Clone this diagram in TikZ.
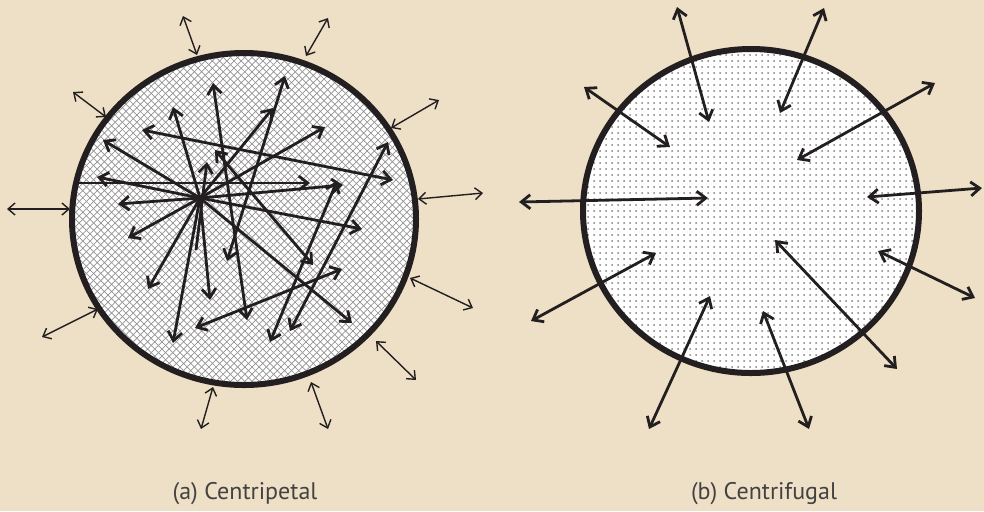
\documentclass[tikz,border=0pt]{standalone}
\usepackage{fontspec}
\setmainfont{PT Sans}
\usepackage{tikz}
\usetikzlibrary{arrows.meta, patterns}

\definecolor{paper}{HTML}{EDE0C6}
\definecolor{ink}{HTML}{231F20}

% coarser cross hatching for the centripetal pool
\pgfdeclarepatternformonly{widehatch}{\pgfqpoint{-1pt}{-1pt}}{\pgfqpoint{4.6pt}{4.6pt}}{\pgfqpoint{3.6pt}{3.6pt}}{
  \pgfsetlinewidth{0.35pt}
  \pgfpathmoveto{\pgfqpoint{0pt}{0pt}}
  \pgfpathlineto{\pgfqpoint{3.6pt}{3.6pt}}
  \pgfpathmoveto{\pgfqpoint{0pt}{3.6pt}}
  \pgfpathlineto{\pgfqpoint{3.6pt}{0pt}}
  \pgfusepath{stroke}
}

\begin{document}
\begin{tikzpicture}[
    x=0.5pt, y=-0.5pt,
    every node/.style={font=\large, text=ink!85},
    pool/.style={line width=3pt, draw=ink},
    thinarrow/.style={<->, >={Straight Barb[length=3.5pt, width=6pt]}, line width=0.7pt, draw=ink},
    boldarrow/.style={>={Straight Barb[length=4.5pt, width=7pt]}, line width=1.4pt, draw=ink}
]
% background and frame
\fill[paper] (0,0) rectangle (984,511);
\useasboundingbox (0,0) rectangle (984,511);

% (a) centripetal pool
\fill[white] (244,219) ellipse [x radius=86pt, y radius=83pt];
\fill[pattern=widehatch, pattern color=gray!85] (244,219) ellipse [x radius=86pt, y radius=83pt];
\coordinate (hub) at (200,198);

\draw[boldarrow, ->] (hub) -- (103,140);
\draw[boldarrow, ->] (hub) -- (97,177);
\draw[boldarrow, ->] (hub) -- (118,204);
\draw[boldarrow, ->] (hub) -- (128,238);
\draw[boldarrow, ->] (hub) -- (148,289);
\draw[boldarrow, ->] (hub) -- (173,343);
\draw[boldarrow, ->] (hub) -- (210,300);
\draw[boldarrow, ->] (hub) -- (173,107);
\draw[boldarrow, ->] (hub) -- (273,108);
\draw[boldarrow, ->] (hub) -- (325,127);
\draw[boldarrow, ->] (hub) -- (343,185);
\draw[boldarrow, ->] (hub) -- (362,229);
\draw[boldarrow, ->] (hub) -- (352,323);
\draw[boldarrow, ->] (196,250) -- (207,162);
\draw[boldarrow, ->] (78,183) -- (310,183);
\draw[boldarrow, <->] (142,130) -- (393,180);
\draw[boldarrow, <->] (213,83) -- (247,320);
\draw[boldarrow, <->] (285,76) -- (227,261);
\draw[boldarrow, <->] (388,142) -- (290,331);
\draw[boldarrow, <->] (270,342) -- (337,181);
\draw[boldarrow, <->] (215,150) -- (313,265);
\draw[boldarrow, <->] (195,328) -- (342,269);

\draw[pool] (244,219) ellipse [x radius=86pt, y radius=83pt];

% exchange across the boundary
\draw[thinarrow] (183,16) -- (197,55);
\draw[thinarrow] (328,18) -- (306,56);
\draw[thinarrow] (73,92) -- (106,117);
\draw[thinarrow] (439,100) -- (391,128);
\draw[thinarrow] (7,209) -- (70,209);
\draw[thinarrow] (418,199) -- (483,193);
\draw[thinarrow] (42,337) -- (98,309);
\draw[thinarrow] (410,278) -- (473,308);
\draw[thinarrow] (376,341) -- (416,380);
\draw[thinarrow] (213,387) -- (201,429);
\draw[thinarrow] (311,382) -- (328,429);

% (b) centrifugal pool
\fill[white] (751,211) ellipse [x radius=84pt, y radius=81pt];
\fill[pattern=dots, pattern color=gray] (751,211) ellipse [x radius=84pt, y radius=81pt];
\draw[pool] (751,211) ellipse [x radius=84pt, y radius=81pt];

\draw[boldarrow, <->] (677,7) -- (709,122);
\draw[boldarrow, <->] (824,8) -- (780,113);
\draw[boldarrow, <->] (584,87) -- (670,147);
\draw[boldarrow, <->] (935,83) -- (797,160);
\draw[boldarrow, <->] (519,202) -- (708,198);
\draw[boldarrow, <->] (982,188) -- (867,197);
\draw[boldarrow, <->] (531,321) -- (656,253);
\draw[boldarrow, <->] (975,298) -- (878,251);
\draw[boldarrow, <->] (897,369) -- (775,240);
\draw[boldarrow, <->] (649,429) -- (710,296);
\draw[boldarrow, <->] (809,429) -- (763,311);

% captions
\node (capA) at (245,494) {(a) Centripetal};
\node (capB) at (764,494) {(b) Centrifugal};

\end{tikzpicture}
\end{document}
